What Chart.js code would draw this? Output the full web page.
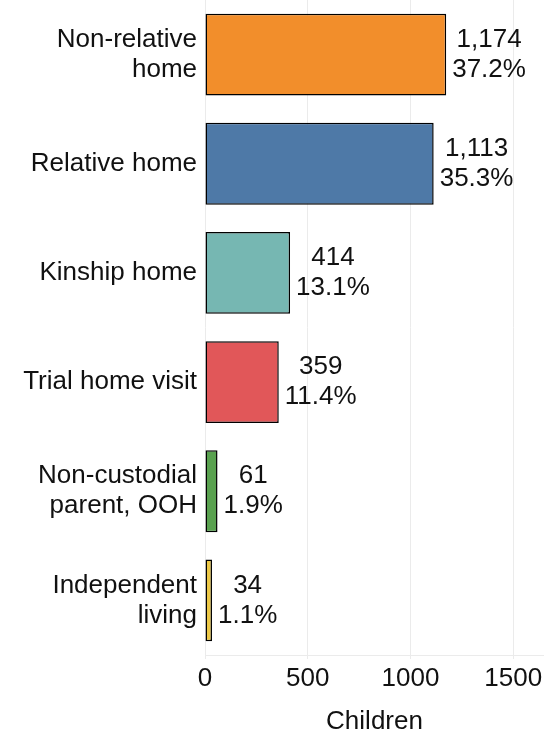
<!DOCTYPE html>
<html>
<head>
<meta charset="utf-8">
<script src="https://cdn.jsdelivr.net/npm/chart.js@4"></script>
<style>
  html,body{margin:0;padding:0;background:#fff}
  #wrap{width:544px;height:730px}
</style>
</head>
<body>
<div id="wrap"><canvas id="chart" width="544" height="730"></canvas></div>
<script>
// Data
const categories = [['Non-relative','home'],'Relative home','Kinship home','Trial home visit',['Non-custodial','parent, OOH'],['Independent','living']];
const children   = [1174, 1113, 414, 359, 61, 34];
const percents   = ['37.2%','35.3%','13.1%','11.4%','1.9%','1.1%'];
const barColors  = ['#F28E2B','#4E79A7','#76B7B2','#E15759','#59A14F','#EDC948'];
const xTicks     = [0, 500, 1000, 1500];

const FONT = 'Arial, "Liberation Sans", sans-serif';

// two-line labels to the right of each bar
const barLabels = {
  id: 'barLabels',
  afterDatasetsDraw(chart) {
    const ctx = chart.ctx;
    const meta = chart.getDatasetMeta(0);
    ctx.save();
    ctx.font = '26px ' + FONT;
    ctx.fillStyle = '#111';
    ctx.textAlign = 'center';
    ctx.textBaseline = 'middle';
    meta.data.forEach((bar, i) => {
      const l1 = children[i].toLocaleString('en-US');
      const l2 = percents[i];
      const w = Math.max(ctx.measureText(l1).width, ctx.measureText(l2).width);
      const cx = bar.x + 6 + w / 2;
      ctx.fillText(l1, cx, bar.y - 15);
      ctx.fillText(l2, cx, bar.y + 15);
    });
    ctx.restore();
  }
};

new Chart(document.getElementById('chart'), {
  type: 'bar',
  data: {
    labels: categories,
    datasets: [{
      data: children,
      backgroundColor: barColors,
      borderColor: '#000',
      borderWidth: 1.5,
      borderSkipped: false,
      categoryPercentage: 1,
      barPercentage: 0.75
    }]
  },
  options: {
    indexAxis: 'y',
    responsive: false,
    animation: false,
    layout: {padding: 0},
    plugins: {legend: {display: false}, tooltip: {enabled: false}},
    scales: {
      x: {
        min: 0, max: 1650,
        afterBuildTicks: s => { s.ticks = xTicks.map(v => ({value: v})); },
        afterFit: s => { s.height = 75; s.paddingLeft = 0; s.paddingRight = 0; },
        grid: {color: '#ebebeb', lineWidth: 1, tickLength: 4, drawTicks: true},
        border: {display: true, color: '#ebebeb'},
        ticks: {font: {size: 26, family: FONT}, color: '#111', padding: 4, callback: v => String(v)},
        title: {display: true, text: 'Children', font: {size: 26, family: FONT}, color: '#111', padding: {top: 14, bottom: -7}}
      },
      y: {
        afterFit: s => { s.width = 205; s.paddingTop = 0; s.paddingBottom = 0; },
        grid: {display: false},
        border: {display: false},
        ticks: {font: {size: 26, family: FONT, lineHeight: 1.15}, color: '#111', padding: 0}
      }
    }
  },
  plugins: [barLabels]
});
</script>
</body>
</html>
